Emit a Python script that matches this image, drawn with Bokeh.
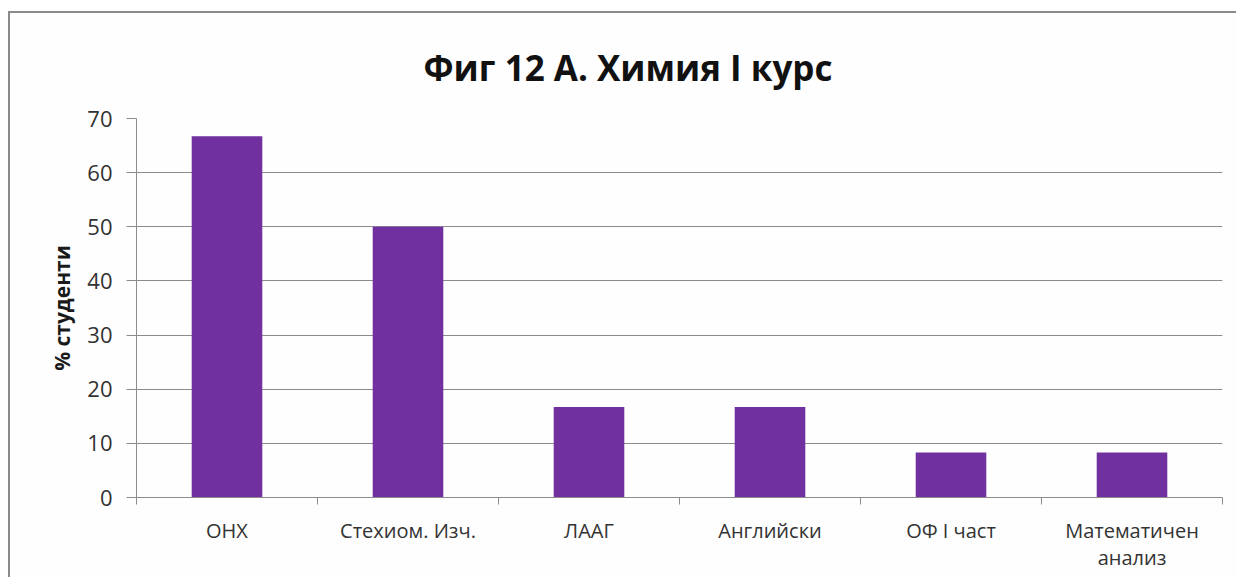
from bokeh.plotting import figure
from bokeh.models import (Range1d, FixedTicker, LinearAxis, Title, ColumnDataSource)
from bokeh.embed import file_html
from bokeh.resources import INLINE

categories = ["ОНХ", "Стехиом. Изч.", "ЛААГ", "Английски", "ОФ I част", "Математичен\nанализ"]
values = [66.7, 50.0, 16.7, 16.7, 8.3, 8.3]
y_ticks = [0, 10, 20, 30, 40, 50, 60, 70]
title_text = "Фиг 12 А. Химия I курс"
y_label = "% студенти"

FONT = "Open Sans"
GRID = "#8c8c8c"

n = len(categories)
centers = [i + 0.5 for i in range(n)]

p = figure(width=1228, height=566, output_backend="svg", toolbar_location=None,
           x_range=Range1d(0, n), y_range=Range1d(0, 70),
           x_axis_location=None, y_axis_location=None,
           min_border_left=126, min_border_top=105, min_border_right=16, min_border_bottom=82)
p.styles = {"margin-left": "8px", "margin-top": "11px",
            "border-left": "2px solid #8a8a8a", "border-top": "2px solid #8a8a8a"}
p.outline_line_color = None
p.background_fill_color = "#fefefe"
p.border_fill_color = "#fefefe"

src = ColumnDataSource(dict(x=centers, val=values))
p.vbar(x="x", top="val", width=0.39, source=src, fill_color="#7030A0", line_color=None)

# grid
p.xgrid.grid_line_color = None
p.ygrid.grid_line_color = GRID
p.ygrid.grid_line_width = 1
p.ygrid.ticker = FixedTicker(ticks=y_ticks)

# y axis
ya = LinearAxis(ticker=FixedTicker(ticks=y_ticks, minor_ticks=[]))
ya.axis_line_color = GRID
ya.major_tick_line_color = GRID
ya.major_tick_out = 10
ya.major_tick_in = 0
ya.minor_tick_line_color = None
ya.major_label_text_font = FONT
ya.major_label_text_font_size = "22px"
ya.major_label_text_color = "#333333"
ya.major_label_standoff = 14
ya.axis_label = y_label
ya.axis_label_text_font = FONT
ya.axis_label_text_font_size = "21px"
ya.axis_label_text_font_style = "bold"
ya.axis_label_text_color = "#1a1a1a"
ya.axis_label_standoff = 8
p.add_layout(ya, "left")

# boundary ticks axis (closest to the frame)
xb = LinearAxis(ticker=FixedTicker(ticks=list(range(n + 1)), minor_ticks=[]))
xb.major_label_overrides = {i: "" for i in range(n + 1)}
xb.major_label_text_font_size = "1px"
xb.major_label_standoff = 0
xb.axis_line_color = GRID
xb.major_tick_line_color = GRID
xb.major_tick_out = 7
xb.major_tick_in = 0
xb.minor_tick_line_color = None
p.add_layout(xb, "below")

# category labels
xc = LinearAxis(ticker=FixedTicker(ticks=centers, minor_ticks=[]))
xc.major_label_overrides = {c: lab for c, lab in zip(centers, categories)}
xc.axis_line_color = None
xc.major_tick_line_color = None
xc.major_tick_out = 0
xc.major_label_text_font = FONT
xc.major_label_text_font_size = "20px"
xc.major_label_text_color = "#333333"
xc.major_label_text_line_height = 1.0
xc.major_label_standoff = 12
p.add_layout(xc, "below")

t = Title(text=title_text, align="left", offset=287, standoff=56)
t.text_font = FONT
t.text_font_size = "35px"
t.text_font_style = "bold"
t.text_color = "#111111"
p.add_layout(t, "above")

open("out.html", "w").write(file_html(p, INLINE))
